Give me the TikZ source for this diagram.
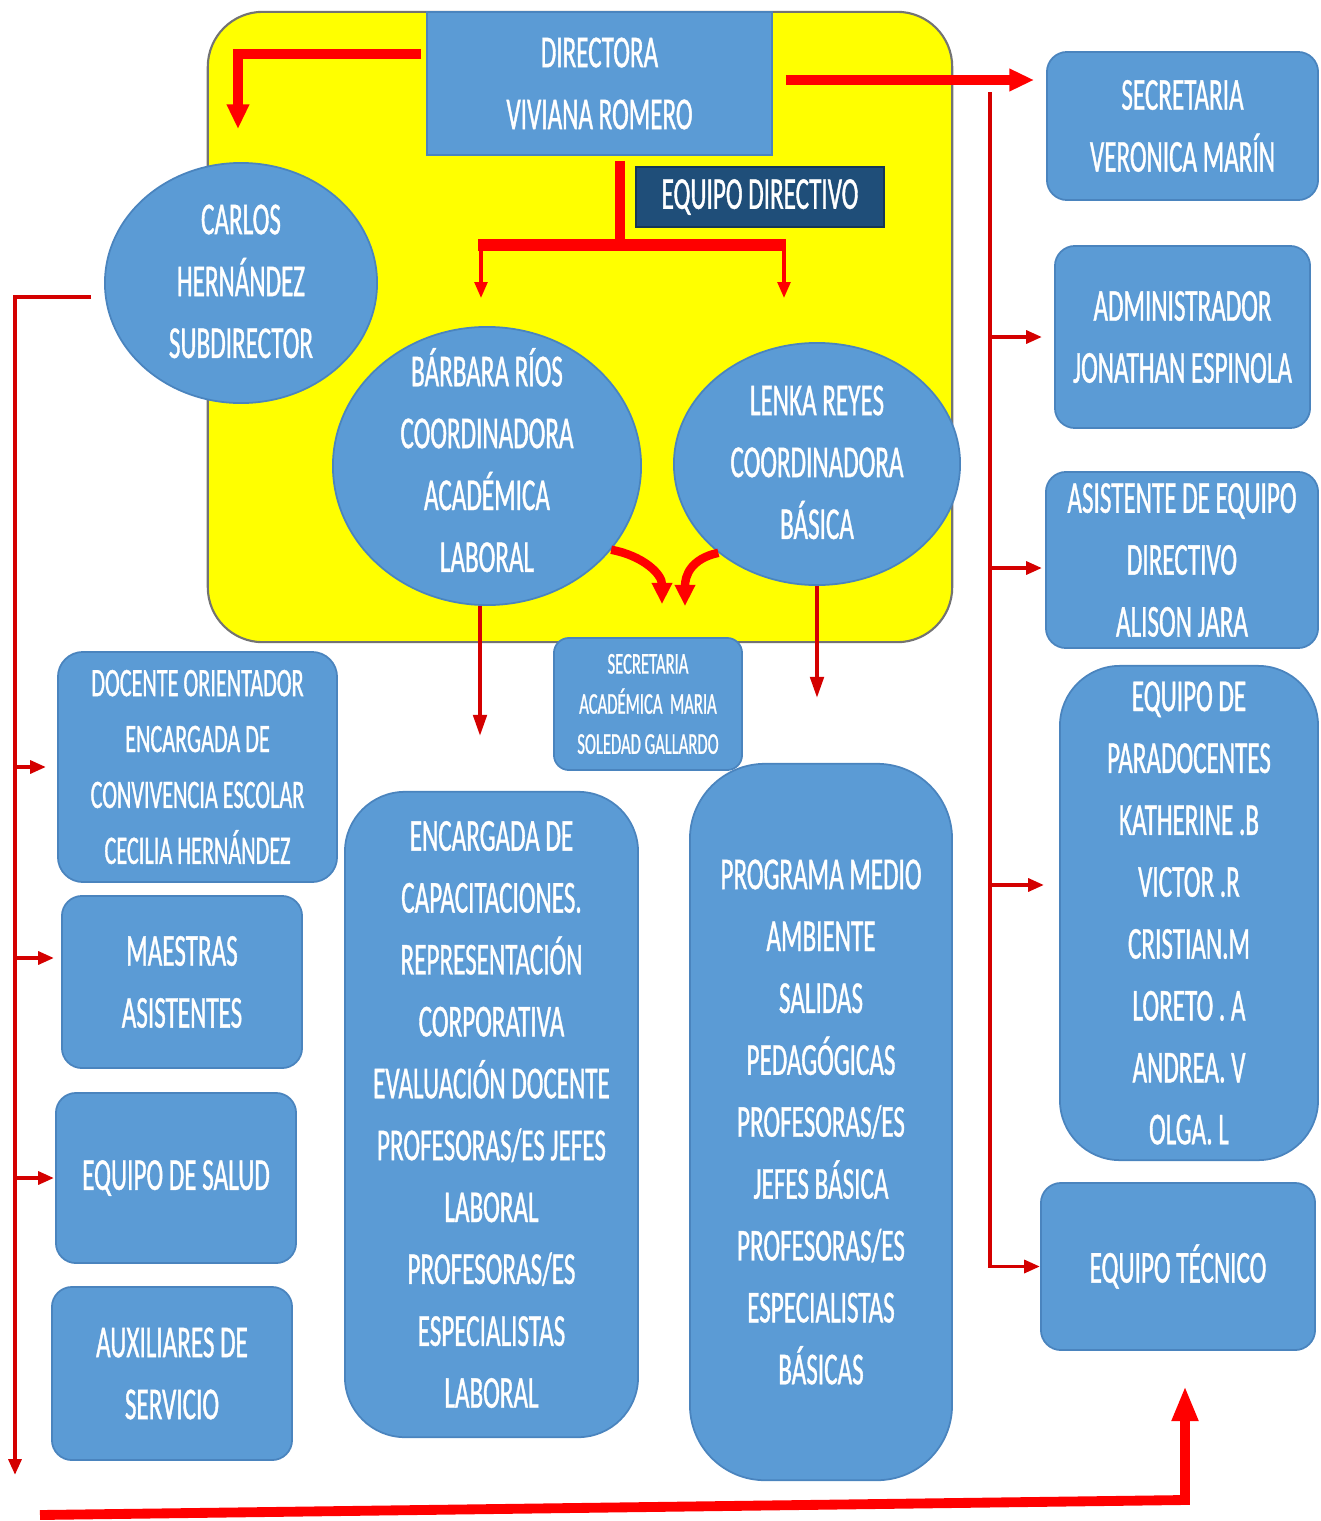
\documentclass[tikz,border=0pt]{standalone}
\usepackage{fontspec}
\setmainfont{Carlito}[FakeStretch=0.55,FakeBold=0.8]
\usetikzlibrary{arrows.meta,calc,shapes.geometric}

\definecolor{azul}{HTML}{5B9BD5}
\definecolor{bordeazul}{HTML}{4A84BE}
\definecolor{marino}{HTML}{1F4E79}
\definecolor{rojo}{HTML}{FF0000}
\definecolor{rojoosc}{HTML}{D40000}
\definecolor{amarillo}{HTML}{FFFF00}

% texto de las elipses, sin alto ni profundidad
\newcommand{\elltxt}[1]{\smash{\lower3.2pt\hbox{\begin{tabular}{@{}c@{}}#1\end{tabular}}}}

\begin{document}
\begin{tikzpicture}[x=0.01cm, y=-0.01cm,
    font=\fontsize{13}{17.6}\selectfont,
    zona/.style={draw=black!55, line width=0.6pt, fill=amarillo, rounded corners=0.55cm},
    caja/.style={draw=bordeazul, line width=0.5pt, fill=azul, text=white, align=center,
                 inner sep=1pt, rounded corners=#1},
    caja/.default=0.2cm,
    jefa/.style={draw=bordeazul, line width=0.5pt, fill=azul, text=white, align=center, inner sep=1pt},
    equipo/.style={draw=marino!70!black, line width=0.5pt, fill=marino, text=white, inner sep=1pt},
    elipse/.style={ellipse, draw=bordeazul, line width=0.5pt, fill=azul, text=white, inner sep=0pt},
    gruesa/.style={draw=rojo, line width=2.8pt},
    fina/.style={draw=rojoosc, line width=1.1pt},
    curva/.style={draw=rojo, line width=2.4pt, -{Triangle[length=6pt,width=5.5pt]}},
    puntag/.style={-{Triangle[length=7pt,width=6pt]}},
    puntam/.style={-{Triangle[length=6pt,width=3.8pt]}},
    puntaf/.style={-{Triangle[length=4.5pt,width=3.6pt]}}]

  \useasboundingbox (0,0) rectangle (1320,1521);

  \node[zona, minimum width=7.44cm, minimum height=6.30cm] (zona) at (580,327) {};

  \node[jefa, minimum width=3.45cm, minimum height=1.43cm] (dir) at (599.5,83.5) {DIRECTORA\\VIVIANA ROMERO};
  \node[equipo, minimum width=2.48cm, minimum height=0.60cm] (equipo) at (760,197) {EQUIPO DIRECTIVO};

  \node[elipse, minimum width=2.72cm, minimum height=2.40cm] (carlos) at (241,283) {\elltxt{CARLOS\\HERNÁNDEZ\\SUBDIRECTOR}};
  \node[elipse, minimum width=3.08cm, minimum height=2.78cm] (barbara) at (487,466) {\elltxt{BÁRBARA RÍOS\\COORDINADORA\\ACADÉMICA\\LABORAL}};
  \node[elipse, minimum width=2.86cm, minimum height=2.42cm] (lenka) at (817,464) {\elltxt{LENKA REYES\\COORDINADORA\\BÁSICA}};

  \node[caja=0.15cm, minimum width=1.88cm, minimum height=1.32cm, font=\fontsize{8.6}{11.4}\selectfont] (secacad) at (648,704) {SECRETARIA\\ACADÉMICA\ \ MARIA\\SOLEDAD GALLARDO};

  \node[caja=0.25cm, minimum width=2.79cm, minimum height=2.30cm, font=\fontsize{11.5}{15.9}\selectfont] (docente) at (197.5,767) {DOCENTE ORIENTADOR\\ENCARGADA DE\\CONVIVENCIA ESCOLAR\\CECILIA HERNÁNDEZ};
  \node[caja, minimum width=2.40cm, minimum height=1.72cm] (maestras) at (182,982) {MAESTRAS\\ASISTENTES};
  \node[caja, minimum width=2.40cm, minimum height=1.70cm] (salud) at (176,1178) {EQUIPO DE SALUD};
  \node[caja, minimum width=2.40cm, minimum height=1.73cm] (aux) at (172,1373.5) {AUXILIARES DE\\SERVICIO};

  \node[caja=0.6cm, minimum width=2.93cm, minimum height=6.45cm] (encargada) at (491.5,1114.5) {ENCARGADA DE\\CAPACITACIONES.\\REPRESENTACIÓN\\CORPORATIVA\\EVALUACIÓN DOCENTE\\PROFESORAS/ES JEFES\\LABORAL\\PROFESORAS/ES\\ESPECIALISTAS\\LABORAL};
  \node[caja=0.75cm, minimum width=2.62cm, minimum height=7.16cm] (programa) at (821,1122) {PROGRAMA MEDIO\\AMBIENTE\\SALIDAS\\PEDAGÓGICAS\\PROFESORAS/ES\\JEFES BÁSICA\\PROFESORAS/ES\\ESPECIALISTAS\\BÁSICAS};

  \node[caja, minimum width=2.71cm, minimum height=1.48cm] (secver) at (1182.5,126) {SECRETARIA\\VERONICA MARÍN};
  \node[caja, minimum width=2.55cm, minimum height=1.82cm] (admin) at (1182.5,337) {ADMINISTRADOR\\JONATHAN ESPINOLA};
  \node[caja, minimum width=2.72cm, minimum height=1.76cm] (asist) at (1182,560) {ASISTENTE DE EQUIPO\\DIRECTIVO\\ALISON JARA};
  \node[caja=0.6cm, minimum width=2.58cm, minimum height=4.94cm] (parad) at (1189,913) {EQUIPO DE\\PARADOCENTES\\KATHERINE .B\\VICTOR .R\\CRISTIAN.M\\LORETO . A\\ANDREA. V\\OLGA. L};
  \node[caja, minimum width=2.74cm, minimum height=1.67cm] (tecnico) at (1178,1266.5) {EQUIPO TÉCNICO};

  % directora
  \draw[gruesa, puntag] ([xshift=-0.05cm,yshift=-0.43cm]dir.north west) -| ([xshift=-0.03cm,yshift=0.33cm]carlos.north);
  \draw[gruesa, puntag, shorten <=0.13cm, shorten >=0.12cm] ([yshift=0.035cm]dir.east) -- ([yshift=0.035cm]dir.east -| secver.west);
  \coordinate (barraI) at (478,245);
  \coordinate (barraD) at (786,245);
  \draw[gruesa] ([xshift=0.205cm,yshift=-0.05cm]dir.south) -- ++(0,86);
  \draw[rojo, line width=3.4pt] (barraI) -- (barraD);
  \draw[rojo, line width=0.9pt, puntaf] ([xshift=0.03cm]barraI) -- ++(0,53);
  \draw[rojo, line width=0.9pt, puntaf] ([xshift=-0.02cm]barraD) -- ++(0,53);

  % coordinadoras
  \draw[fina, puntam] ([xshift=-0.07cm]barbara.south) -- ++(0,130);
  \draw[fina, puntam] (lenka.south) -- ++(0,112);
  \draw[curva] (barbara.-34) .. controls +(32,6) and +(0,-30) .. ($(secacad.north)+(14,-33)$);
  \draw[curva] (lenka.222) .. controls +(-28,6) and +(0,-30) .. ($(secacad.north)+(37,-31)$);

  % lado derecho
  \coordinate (vd) at (990,92);
  \draw[fina, puntaf] (vd) |- (tecnico.west);
  \draw[fina, puntaf, shorten >=0.12cm] (vd |- admin.west) -- (admin.west);
  \draw[fina, puntaf, shorten >=0.03cm] ([yshift=-0.08cm]vd |- asist.west) -- ([yshift=-0.08cm]asist.west);
  \draw[fina, puntaf, shorten >=0.15cm] ([yshift=0.28cm]vd |- parad.west) -- ([yshift=0.28cm]parad.west);

  % lado izquierdo
  \coordinate (vi) at (15,1475);
  \draw[fina, puntaf] ([xshift=-0.13cm,yshift=-0.14cm]carlos.west) -| (vi);
  \draw[fina, puntaf, shorten >=0.11cm] (vi |- docente.west) -- (docente.west);
  \draw[fina, puntaf, shorten >=0.07cm] ([yshift=0.24cm]vi |- maestras.west) -- ([yshift=0.24cm]maestras.west);
  \draw[fina, puntaf, shorten >=0.01cm] (vi |- salud.west) -- (salud.west);

  % abajo
  \coordinate (inf) at (40,1515);
  \coordinate (esq) at (1185,1500);
  \draw[gruesa, -{Triangle[length=10pt,width=7pt]}] (inf) -- (esq) -- ([xshift=0.07cm,yshift=-0.35cm]tecnico.south);
\end{tikzpicture}
\end{document}
